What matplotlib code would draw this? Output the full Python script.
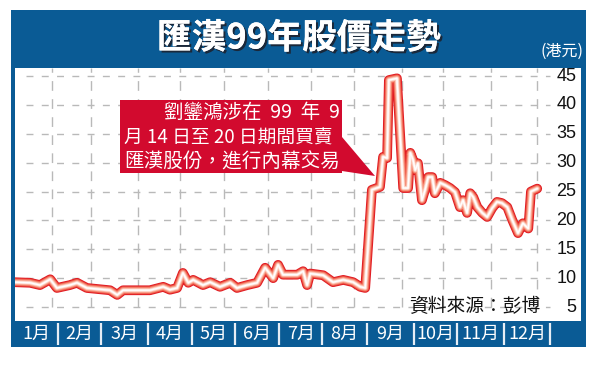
import matplotlib.pyplot as plt
import matplotlib.patheffects as pe
from matplotlib.patches import Rectangle, Polygon

plt.rcParams['font.family'] = ['Noto Sans CJK TC', 'DejaVu Sans']

# month position (0 = start of Jan) and HSBC share price (HK$)
months = [0.00, 0.36, 0.58, 0.81, 0.96, 1.25, 1.41, 1.63, 2.15, 2.31, 2.44,
          3.04, 3.34, 3.49, 3.65, 3.78, 3.90, 4.01, 4.23, 4.39, 4.61, 4.84,
          4.99, 5.22, 5.44, 5.62, 5.80, 5.91, 6.02, 6.34, 6.47, 6.56, 6.63,
          6.92, 7.14, 7.37, 7.59, 7.75, 7.86, 8.01, 8.19, 8.26, 8.35, 8.39,
          8.57, 8.64, 8.71, 8.82, 8.87, 8.93, 8.98, 9.04, 9.13, 9.20, 9.27,
          9.36, 9.42, 9.54, 9.65, 9.76, 9.87, 9.98, 10.05, 10.14, 10.21,
          10.28, 10.37, 10.48, 10.59, 10.70, 10.81, 10.92, 11.04, 11.15,
          11.28, 11.39, 11.51, 11.57, 11.71]
price = [9.3, 9.2, 8.8, 9.8, 8.3, 8.8, 9.2, 8.3, 7.9, 7.1, 7.9,
         7.9, 8.5, 8.0, 8.3, 10.9, 9.2, 9.7, 8.8, 9.3, 8.5, 9.2,
         8.3, 8.8, 9.2, 11.8, 10.0, 12.3, 10.6, 10.6, 11.2, 8.8, 10.8,
         10.5, 9.3, 9.7, 9.3, 8.5, 8.3, 25.3, 25.8, 31.0, 30.8, 44.3,
         44.6, 35.1, 25.6, 25.6, 31.7, 30.5, 28.7, 29.9, 23.5, 25.3, 27.5,
         27.5, 24.7, 26.5, 26.1, 25.6, 24.9, 22.3, 23.5, 21.3, 24.7,
         24.0, 22.3, 21.3, 20.6, 22.1, 23.2, 23.0, 22.3, 20.1,
         17.8, 19.5, 18.6, 25.0, 25.5]

yticks = [5, 10, 15, 20, 25, 30, 35, 40, 45]
month_labels = ['1月', '2月', '3月', '4月', '5月', '6月', '7月', '8月', '9月',
                '10月', '11月', '12月']
month_seps = [0.98, 1.95, 3.0, 3.98, 4.95, 5.93, 6.9, 7.9, 8.95, 9.92, 10.97, 12.0]
vgrid = [0.85, 1.72, 2.78, 3.71, 4.7, 5.68, 6.64, 7.62, 8.69, 9.6, 10.68, 11.71]

title = '匯漢99年股價走勢'
unit = '(港元)'
note = ['劉鑾鴻涉在 99 年 9', '月 14 日至 20 日期間買賣', '匯漢股份，進行內幕交易']
source = '資料來源：彭博'

W, H = 600, 368
BLUE = '#0a5b95'
RED = '#d20a2e'


def fx(px):
    return px / W


def fy(py):
    return 1 - py / H


fig = plt.figure(figsize=(W / 100, H / 100), dpi=100)
fig.patch.set_facecolor('white')

# blue frame
fig.patches.append(Rectangle((fx(11), fy(347)), fx(586) - fx(11), fy(10) - fy(347),
                             transform=fig.transFigure, facecolor=BLUE,
                             edgecolor='none', zorder=-5))

ax = fig.add_axes([fx(15), fy(321), fx(581) - fx(15), fy(68) - fy(321)])
ax.set_facecolor('white')
ax.set_xlim(0.022, 12.69)
ax.set_ylim(2.58, 46.39)
for s in ax.spines.values():
    s.set_visible(False)
ax.set_xticks([])
ax.set_yticks([])

# dashed grid
ax.hlines(yticks, 0.27, 12.0, colors='#b9b9b9', linewidth=1.0,
          linestyles=(0, (5, 6)), zorder=1)
ax.vlines(vgrid, 5, 46.39, colors='#b9b9b9', linewidth=1.0,
          linestyles=(0, (7, 6)), zorder=1)

# y labels on the right, inside the plot
for v in yticks:
    ax.text(0.992, v, str(v), transform=ax.get_yaxis_transform(), ha='right',
            va='center', fontsize=13, family=['Liberation Sans'], color='#111111')

# glowing red line
layers = [('#e01a22', 7.0), ('#ee5646', 5.6), ('#f68e78', 4.3),
          ('#fbc0ae', 3.0), ('#ffe8e0', 1.9), ('white', 0.9)]
for i, (c, lw) in enumerate(layers):
    ax.plot(months, price, color=c, linewidth=lw, solid_joinstyle='round',
            solid_capstyle='round', zorder=3 + i)

ax.text(0.928, 5.0, source, transform=ax.get_yaxis_transform(),
        ha='right', va='center', fontsize=13.5, color='#111111')

# title and unit
fig.text(fx(299), fy(38), title, ha='center', va='center', fontsize=25,
         fontweight='bold', color='white',
         path_effects=[pe.withSimplePatchShadow(offset=(1.5, -1.5),
                                                shadow_rgbFace='#1c2330', alpha=0.9),
                       pe.Normal()])
fig.text(fx(583), fy(51), unit, ha='right', va='center', fontsize=11.5, color='white')

# annotation box with pointer
box = Polygon([(fx(120), fy(100)), (fx(342), fy(100)), (fx(342), fy(137)),
               (fx(375), fy(176)), (fx(342), fy(171)), (fx(342), fy(173)),
               (fx(120), fy(173))], closed=True, transform=fig.transFigure,
              facecolor=RED, edgecolor='none', zorder=10)
fig.patches.append(box)
fig.text(fx(340), fy(112), note[0].replace(' ', '  '), ha='right', va='center',
         fontsize=14, color='white', zorder=11)
fig.text(fx(124), fy(138), note[1], ha='left', va='center', fontsize=13.5,
         color='white', zorder=11)
fig.text(fx(124), fy(162), note[2], ha='left', va='center', fontsize=14.1,
         color='white', zorder=11)

# month band
bx = fig.add_axes([fx(15), fy(347), fx(581) - fx(15), fy(321) - fy(347)])
bx.set_xlim(ax.get_xlim())
bx.set_ylim(0, 1)
bx.axis('off')
prev = 0.022
for lab, sep in zip(month_labels, month_seps):
    bx.text((prev + sep) / 2, 0.5, lab, ha='center', va='center', fontsize=13,
            color='white')
    prev = sep
bx.vlines(month_seps, 0.08, 0.92, colors='#e6edf5', linewidth=1.6)

fig.savefig('out.png', dpi=100)
